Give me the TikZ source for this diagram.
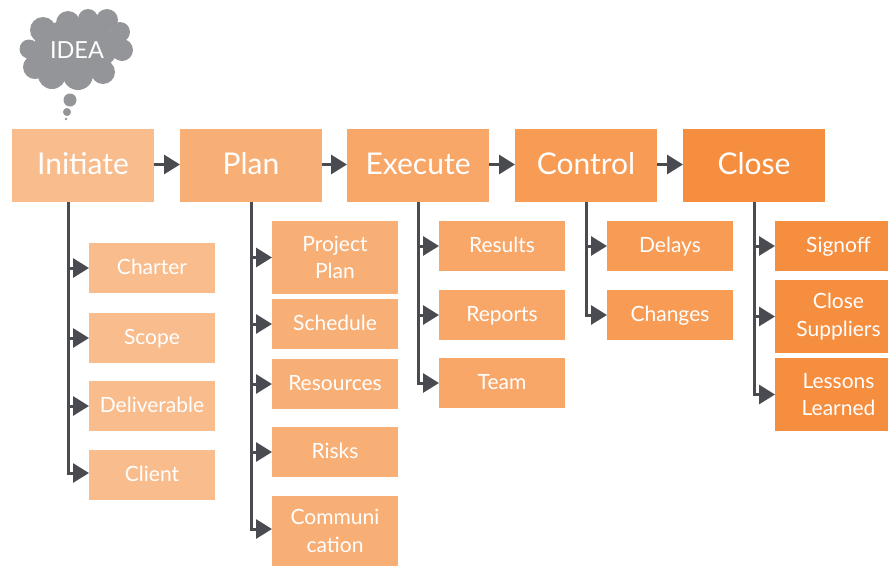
\documentclass[tikz,border=0pt]{standalone}
\usepackage{fontspec}
\setmainfont{Lato}
\usetikzlibrary{arrows.meta}
\definecolor{cI}{HTML}{F9BC8C}
\definecolor{cP}{HTML}{F8AF76}
\definecolor{cE}{HTML}{F8A768}
\definecolor{cC}{HTML}{F79B55}
\definecolor{cL}{HTML}{F68E40}
\definecolor{dk}{HTML}{4A4B50}
\definecolor{cloudc}{HTML}{939598}
\tikzset{
 x=1pt,y=-1pt,
 bx/.style={anchor=north west,inner sep=0pt,outer sep=0pt,text=white,align=center,font=\fontsize{21}{27.5}\selectfont},
 head/.style={bx,minimum width=142pt,minimum height=73pt,text height=22pt,text depth=4.4pt,font=\fontsize{30}{34}\selectfont},
 sub/.style={bx,minimum width=126pt,minimum height=50pt,text height=16pt,text depth=3.4pt},
 subtwo/.style={bx,minimum width=126pt,minimum height=73pt},
 conn/.style={draw=dk,line width=3pt,-{Triangle[length=16pt,width=19pt]}},
}
\newcommand{\sh}{\hspace*{14pt}}
\begin{document}
\begin{tikzpicture}
\useasboundingbox (0,0) rectangle (888,566);
% cloud
\fill[cloudc] (76,47) ellipse [x radius=42, y radius=28];
\foreach \a/\b/\r in {29/49/9.5,43/30/13,68/23/12,88/19/10,107/20/11,120/32/10,122/50/11,103/72/12,78/75/15,52/75/14,35/67/12}
  \fill[cloudc] (\a,\b) circle [radius=\r];
\fill[cloudc] (70,100) circle [radius=6.5];
\fill[cloudc] (67,112) circle [radius=4];
\fill[cloudc] (66,119) circle [radius=1.3];
\node[text=white,inner sep=0pt,font=\fontsize{23.5}{26}\selectfont] (idea) at (77,50) {IDEA};
% heads
\node[head,fill=cI] (init) at (12,129) {Initiate};
\node[head,fill=cP] (plan) at (180,129) {Plan};
\node[head,fill=cE] (exec) at (347,129) {Execute};
\node[head,fill=cC] (ctrl) at (515,129) {Control};
\node[head,fill=cL] (close) at (683,129) {Close};
% initiate children
\node[sub,fill=cI] (charter) at (89,243) {Charter};
\node[sub,fill=cI] (scope) at (89,313) {Scope};
\node[sub,fill=cI] (deliv) at (89,381) {Deliverable};
\node[sub,fill=cI] (client) at (89,450) {Client};
% plan children
\node[subtwo,fill=cP] (pplan) at (272,221) {Project\\Plan};
\node[sub,fill=cP] (sched) at (272,299) {Schedule};
\node[sub,fill=cP] (res) at (272,359) {Resources};
\node[sub,fill=cP] (risks) at (272,427) {Risks};
\node[subtwo,fill=cP,minimum height=70pt] (comm) at (272,496) {Communi\\cation};
% execute children
\node[sub,fill=cE] (results) at (439,221) {Results};
\node[sub,fill=cE] (reports) at (439,290) {Reports};
\node[sub,fill=cE] (team) at (439,358) {Team};
% control children
\node[sub,fill=cC] (delays) at (607,221) {Delays};
\node[sub,fill=cC] (changes) at (607,290) {Changes};
% close children
\node[sub,fill=cL,minimum width=113pt] (signoff) at (775,221) {\sh Signoff};
\node[subtwo,fill=cL,minimum width=113pt] (csup) at (775,280) {\sh Close\\\sh Suppliers};
\node[subtwo,fill=cL,minimum width=113pt] (less) at (775,358) {\sh Lessons\\\sh Learned};
% head connectors
\draw[conn] ([yshift=1pt]init.east) -- ([yshift=1pt]plan.west);
\draw[conn] ([yshift=1pt]plan.east) -- ([yshift=1pt]exec.west);
\draw[conn] ([yshift=1pt]exec.east) -- ([yshift=1pt]ctrl.west);
\draw[conn] ([yshift=1pt]ctrl.east) -- ([yshift=1pt]close.west);
% trunks
\coordinate (iS) at ([xshift=-15pt]init.south);
\draw[conn] (iS) |- ([yshift=2pt]client.west);
\draw[conn] (iS |- charter.west) -- (charter.west);
\draw[conn] (iS |- scope.west) -- (scope.west);
\draw[conn] (iS |- deliv.west) -- (deliv.west);
\draw[conn] (plan.south) |- ([yshift=2pt]comm.west);
\draw[conn] (plan.south |- pplan.west) -- (pplan.west);
\draw[conn] (plan.south |- sched.west) -- (sched.west);
\draw[conn] (plan.south |- res.west) -- (res.west);
\draw[conn] (plan.south |- risks.west) -- (risks.west);
\draw[conn] (exec.south) |- (team.west);
\draw[conn] (exec.south |- results.west) -- (results.west);
\draw[conn] (exec.south |- reports.west) -- (reports.west);
\draw[conn] (ctrl.south) |- (changes.west);
\draw[conn] (ctrl.south |- delays.west) -- (delays.west);
\draw[conn] (close.south) |- (less.west);
\draw[conn] (close.south |- signoff.west) -- (signoff.west);
\draw[conn] (close.south |- csup.west) -- (csup.west);
\end{tikzpicture}
\end{document}
